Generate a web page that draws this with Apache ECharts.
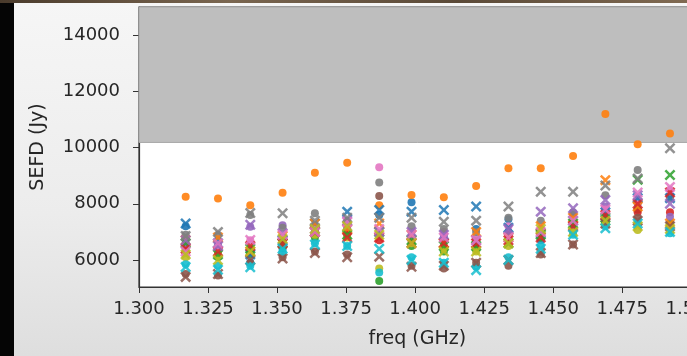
<!DOCTYPE html>
<html>
<head>
<meta charset="utf-8">
<script src="https://cdn.jsdelivr.net/npm/echarts@6/dist/echarts.min.js"></script>
<style>
  html, body { margin: 0; padding: 0; width: 687px; height: 356px; overflow: hidden; }
  body { background: linear-gradient(180deg, #f6f6f6 0%, #ececec 60%, #dedede 100%); position: relative; }
  #chart { position: absolute; left: 0; top: 0; width: 720px; height: 356px; }
  #band { position: absolute; left: 0; top: 0; width: 14px; height: 356px; background: #050505; }
  #strip { position: absolute; left: 0; top: 0; width: 687px; height: 3px; background: linear-gradient(90deg, #4a3b2c, #7a6650, #5b4a38, #806a52); }
</style>
</head>
<body>
<div id="chart"></div>
<div id="band"></div>
<div id="strip"></div>
<script>
// observing frequencies (GHz)
const freqs = [1.3169, 1.3286, 1.3403, 1.3520, 1.3637, 1.3754, 1.3870, 1.3987,
               1.4104, 1.4221, 1.4338, 1.4455, 1.4572, 1.4689, 1.4806, 1.4923];

const xTicks = [1.300, 1.325, 1.350, 1.375, 1.400, 1.425, 1.450, 1.475, 1.500];
const yTicks = [6000, 8000, 10000, 12000, 14000];

// shaded region (Jy)
const shadeFrom = 10180;
const shadeTo = 14996;

const colors = ["#1f77b4", "#ff7f0e", "#2ca02c", "#d62728", "#9467bd",
                "#8c564b", "#e377c2", "#7f7f7f", "#bcbd22", "#17becf"];

// SEFD per colour, plotted with circles
const dots = [
  [7200, 6700, 5900, 6400, 7000, 7100, 7600, 8050, 6900, 7100, 7450, 6700, 7200, 7600, 7800, 8300],
  [8250, 8190, 7950, 8390, 9100, 9460, 7950, 8310, 8230, 8630, 9260, 9260, 9700, 11190, 10120, 10500],
  [6300, 6100, 6200, 6500, 6800, 6900, 5250, 6500, 6300, 6400, 6700, 6800, 7300, 7400, 7800, 7300],
  [6500, 6300, 6300, 6600, 7000, 7000, 6700, 6800, 6500, 6600, 6900, 7000, 7500, 7600, 7700, 7700],
  [6600, 6550, 7180, 7240, 7200, 7200, 6900, 6700, 6800, 6700, 7000, 7100, 7600, 7900, 8000, 7540],
  [5500, 5450, 5900, 6100, 6300, 6200, 8280, 5800, 5700, 5900, 5800, 6200, 6550, 7300, 7500, 7200],
  [6250, 6400, 6700, 6800, 7100, 7300, 9300, 7000, 7000, 6750, 7200, 7100, 7400, 7800, 8100, 8500],
  [6900, 6900, 7600, 7150, 7660, 7400, 8760, 7200, 7100, 7000, 7500, 7400, 7700, 8300, 9200, 8200],
  [6100, 6200, 6400, 6700, 6900, 6800, 5700, 6600, 6400, 6300, 6500, 6900, 7000, 7300, 7070, 7200],
  [5850, 5800, 5800, 6300, 6600, 6500, 5560, 6100, 5900, 5750, 6100, 6500, 6900, 7200, 7300, 6950]
];

// SEFD per colour, plotted with crosses
const crosses = [
  [7300, 6600, 6200, 6700, 7300, 7720, 7780, 7720, 7780, 7900, 7150, 6950, 7400, 7700, 8200, 8200],
  [6700, 6800, 6300, 6850, 7300, 7100, 7300, 6900, 6600, 7000, 6800, 7200, 7500, 8840, 7900, 7300],
  [6600, 6200, 6400, 6600, 7000, 6900, 7000, 6700, 6500, 6500, 6600, 6900, 7300, 7500, 8850, 9020],
  [6400, 6300, 6500, 6600, 7000, 6800, 6800, 6600, 6600, 6600, 6700, 6800, 7200, 7600, 8000, 8400],
  [6700, 6500, 7250, 6950, 7100, 7400, 7000, 7000, 6900, 6700, 7100, 7720, 7840, 8130, 8300, 8000],
  [5400, 5500, 6000, 6050, 6250, 6100, 6120, 5760, 5800, 5900, 6000, 6250, 6550, 7300, 7400, 7200],
  [6300, 6600, 6710, 6900, 7000, 7350, 7100, 6900, 6800, 6700, 6800, 7000, 7400, 7800, 8400, 8600],
  [6850, 7000, 7670, 7660, 7400, 7500, 7500, 7500, 7360, 7400, 7900, 8430, 8430, 8650, 8900, 9970],
  [6200, 6000, 6300, 6750, 7100, 7200, 6900, 6600, 6300, 6300, 6600, 7100, 7000, 7400, 7200, 7100],
  [5750, 5650, 5740, 6400, 6550, 6500, 6400, 6000, 5900, 5640, 6000, 6400, 6900, 7130, 7300, 7000]
];

const crossPath = "path://M0,1.6L1.6,0L5,3.4L8.4,0L10,1.6L6.6,5L10,8.4L8.4,10L5,6.6L1.6,10L0,8.4L3.4,5Z";
const font = "DejaVu Sans";

const chart = echarts.init(document.getElementById("chart"), null, { renderer: "canvas" });

const series = [];
dots.forEach((vals, i) => {
  series.push({
    type: "scatter",
    symbol: "circle",
    symbolSize: 8,
    itemStyle: { color: colors[i], opacity: 0.9 },
    data: freqs.map((f, j) => [f, vals[j]]),
    z: 3
  });
});
crosses.forEach((vals, i) => {
  series.push({
    type: "scatter",
    symbol: crossPath,
    symbolSize: 11,
    itemStyle: { color: colors[i], opacity: 0.85 },
    data: freqs.map((f, j) => [f, vals[j]]),
    z: 3
  });
});

// grey band behind the points
series[0].markArea = {
  silent: true,
  z: 1,
  itemStyle: { color: "#bebebe", borderColor: "#a8a8a8", borderWidth: 1 },
  data: [[{ yAxis: shadeFrom }, { yAxis: shadeTo }]]
};

chart.setOption({
  backgroundColor: "transparent",
  animation: false,
  grid: {
    left: 139, top: 7, width: 562, height: 280,
    show: true, backgroundColor: "#fff", borderColor: "#333", borderWidth: 1.2
  },
  xAxis: {
    type: "value",
    min: 1.3, max: 1.50158,
    name: "freq (GHz)",
    nameLocation: "middle",
    nameGap: 43,
    nameTextStyle: { color: "#262626", fontFamily: font, fontSize: 19 },
    axisLine: { show: true, lineStyle: { color: "#333", width: 1.2 } },
    axisTick: { show: true, length: 6, lineStyle: { color: "#333" }, customValues: xTicks },
    axisLabel: {
      color: "#262626", fontFamily: font, fontSize: 18, margin: 13,
      customValues: xTicks,
      formatter: v => v.toFixed(3)
    },
    splitLine: { show: false }
  },
  yAxis: {
    type: "value",
    min: 5040, max: 14996,
    name: "SEFD (Jy)",
    nameLocation: "middle",
    nameGap: 91,
    nameRotate: 90,
    nameTextStyle: { color: "#262626", fontFamily: font, fontSize: 19 },
    axisLine: { show: true, lineStyle: { color: "#333", width: 1.2 } },
    axisTick: { show: true, length: 6, lineStyle: { color: "#333" }, customValues: yTicks },
    axisLabel: {
      color: "#262626", fontFamily: font, fontSize: 18, margin: 19,
      customValues: yTicks,
      formatter: v => String(v)
    },
    splitLine: { show: false }
  },
  series
});
</script>
</body>
</html>
